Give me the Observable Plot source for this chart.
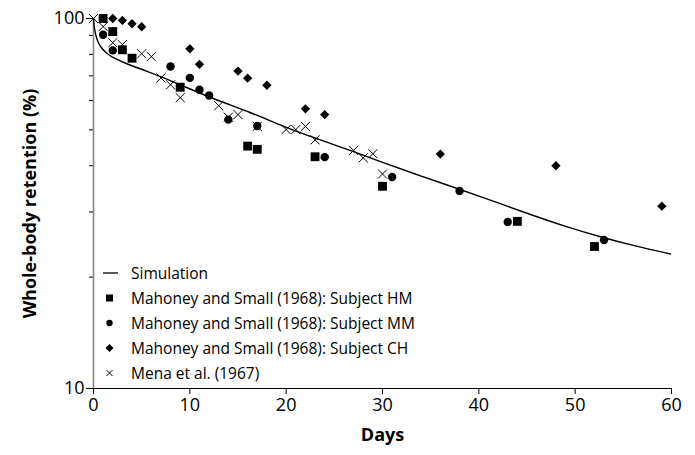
<!DOCTYPE html>
<html>
<head>
<meta charset="utf-8">
<script src="https://cdn.jsdelivr.net/npm/d3@7"></script>
<script src="https://cdn.jsdelivr.net/npm/@observablehq/plot@0.6"></script>
<style>
  html, body { margin: 0; padding: 0; background: #fff; }
  #wrap { position: relative; width: 695px; height: 455px; font-family: "Open Sans", Lato, sans-serif; }
  #legend { position: absolute; left: 100px; top: 260px; font-size: 15.5px; color: #000; }
  #legend .row { height: 25px; display: flex; align-items: center; white-space: nowrap; }
  #legend svg { width: 26px; height: 14px; margin-right: 5px; }
</style>
</head>
<body>
<div id="wrap"></div>
<script>
// Days and % retention
const simDays = [0, 0.1, 0.38, 0.73, 1.42, 2.1, 3.84, 5.57, 7.3, 9.03, 12.5, 16.3, 19.75, 23.2, 26.7, 29.8, 33.25, 36.7, 40.2, 45.7, 49.2, 52.6, 56.1, 59.9];
const simVals = [100, 92.8, 87.2, 83.6, 80.3, 78.1, 74.6, 72.1, 69.1, 66.2, 60.5, 55.8, 51.0, 47.3, 44.0, 41.0, 38.1, 35.5, 33.0, 29.3, 27.3, 25.7, 24.3, 23.1];

const hmDays = [1, 2, 3, 4, 9, 16, 17, 23, 30, 44, 52];
const hmVals = [100, 92.2, 82.3, 78.1, 65.2, 45.2, 44.3, 42.3, 35.2, 28.3, 24.2];

const mmDays = [1, 2, 8, 10, 11, 12, 14, 17, 24, 31, 38, 43, 53];
const mmVals = [90.4, 82, 74.2, 69.1, 64.2, 61.9, 53.3, 51.2, 42.2, 37.3, 34.2, 28.2, 25.2];

const chDays = [2, 3, 4, 5, 10, 11, 15, 16, 18, 22, 24, 36, 48, 59];
const chVals = [100, 98.8, 96.8, 95, 82.8, 75.2, 72.1, 69, 66, 57, 55, 43, 40, 31.1];

const menaDays = [0, 1, 2, 3, 5, 6, 7, 8, 9, 13, 14, 15, 17, 20, 21, 22, 23, 27, 28, 29, 30];
const menaVals = [100, 95.1, 86, 85, 80.3, 78.9, 69.1, 66.2, 61.1, 58.1, 54.1, 55, 51.1, 50.1, 50.1, 51.1, 47, 44, 42, 43.1, 38];

const xTicks = [0, 10, 20, 30, 40, 50, 60];
const yMajor = [10, 100];
const yMinor = [20, 30, 40, 50, 60, 70, 80, 90];

const xLabel = "Days";
const yLabel = "Whole-body retention (%)";
const legendLabels = [
  "Simulation",
  "Mahoney and Small (1968): Subject HM",
  "Mahoney and Small (1968): Subject MM",
  "Mahoney and Small (1968): Subject CH",
  "Mena et al. (1967)"
];

const toRows = (xs, ys) => xs.map((d, i) => ({day: d, val: ys[i]}));
const sim = toRows(simDays, simVals);
const hm = toRows(hmDays, hmVals);
const mm = toRows(mmDays, mmVals);
const ch = toRows(chDays, chVals);
const mena = toRows(menaDays, menaVals);

const chart = Plot.plot({
  width: 695,
  height: 455,
  marginLeft: 93,
  marginRight: 24,
  marginTop: 18,
  marginBottom: 67,
  style: {fontFamily: "'Open Sans', Lato, sans-serif", background: "#fff", color: "#000"},
  x: {domain: [0, 60]},
  y: {type: "log", domain: [10, 100]},
  marks: [
    Plot.axisY(yMinor, {tickSize: 4, tickFormat: () => "", stroke: "#000", label: null}),
    Plot.axisY(yMajor, {tickSize: 7, tickPadding: 2, fontSize: 18, tickFormat: d => String(d), stroke: "#000", label: null}),
    Plot.axisX(xTicks, {tickSize: 6, tickPadding: 4, fontSize: 18, stroke: "#000", label: null}),
    Plot.text([yLabel], {frameAnchor: "left", dx: -63, rotate: -90, fontSize: 18, fontWeight: "bold", textAnchor: "middle"}),
    Plot.text([xLabel], {frameAnchor: "bottom", dy: 52, fontSize: 18, fontWeight: "bold", textAnchor: "middle"}),
    Plot.ruleY([10], {stroke: "#000", strokeWidth: 1.2}),
    Plot.ruleX([0], {stroke: "#888", strokeWidth: 1.6}),
    Plot.line(sim, {x: "day", y: "val", stroke: "#000", strokeWidth: 1.4, curve: "basis"}),
    Plot.dot(hm, {x: "day", y: "val", symbol: "square", r: 5, fill: "#000", stroke: null}),
    Plot.dot(mm, {x: "day", y: "val", symbol: "circle", r: 4.2, fill: "#000", stroke: null}),
    Plot.dot(ch, {x: "day", y: "val", symbol: "diamond2", r: 4.2, fill: "#000", stroke: null}),
    Plot.dot(mena, {x: "day", y: "val", symbol: "times", r: 4.2, stroke: "#000", strokeWidth: 1, fill: "none"})
  ]
});

const wrap = document.getElementById("wrap");
wrap.appendChild(chart);

// Legend (HTML overlay, inside plot area)
const legend = document.createElement("div");
legend.id = "legend";
const symSvgs = [
  '<svg viewBox="0 0 26 14"><line x1="3" x2="18" y1="7" y2="7" stroke="#000" stroke-width="1.3"/></svg>',
  '<svg viewBox="0 0 26 14"><rect x="6" y="3.5" width="7" height="7" fill="#000"/></svg>',
  '<svg viewBox="0 0 26 14"><circle cx="9.5" cy="7" r="3.2" fill="#000"/></svg>',
  '<svg viewBox="0 0 26 14"><path d="M9.5 3 L13.5 7 L9.5 11 L5.5 7 Z" fill="#000"/></svg>',
  '<svg viewBox="0 0 26 14"><path d="M6.5 4 L12.5 10 M12.5 4 L6.5 10" stroke="#000" stroke-width="1"/></svg>'
];
legendLabels.forEach((lab, i) => {
  const row = document.createElement("div");
  row.className = "row";
  row.innerHTML = symSvgs[i] + "<span></span>";
  row.querySelector("span").textContent = lab;
  legend.appendChild(row);
});
wrap.appendChild(legend);
</script>
</body>
</html>
